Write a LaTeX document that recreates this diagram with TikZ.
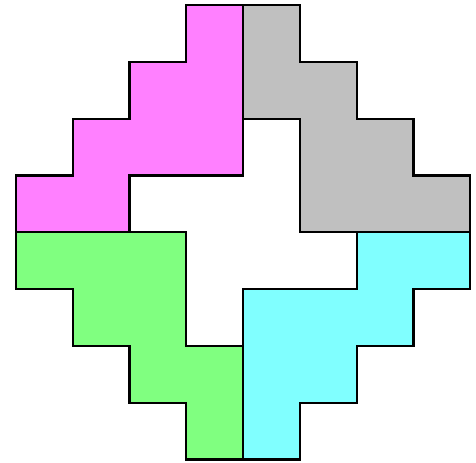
\documentclass[tikz,border=0pt]{standalone}
\usepackage{tikz}

\definecolor{pinkpiece}{RGB}{255,128,255}
\definecolor{graypiece}{RGB}{192,192,192}
\definecolor{cyanpiece}{RGB}{128,255,255}
\definecolor{greenpiece}{RGB}{128,255,128}

\begin{document}
\begin{tikzpicture}[
    x=1cm, y=1cm,
    piece/.style={draw=black, line width=1.1pt, line join=miter}
]

\useasboundingbox (-0.28, -0.05) rectangle (8.1, 8.09);

% ============ TOP LEFT (MAGENTA) ============
\filldraw[piece, fill=pinkpiece]
    (3,8) -- (4,8) -- (4,5) -- (2,5) -- (2,4) -- (0,4) -- (0,5) -- (1,5)
    -- (1,6) -- (2,6) -- (2,7) -- (3,7) -- cycle;

% ============ TOP RIGHT (GRAY) ============
\filldraw[piece, fill=graypiece]
    (4,8) -- (5,8) -- (5,7) -- (6,7) -- (6,6) -- (7,6) -- (7,5) -- (8,5)
    -- (8,4) -- (5,4) -- (5,6) -- (4,6) -- cycle;

% ============ BOTTOM RIGHT (CYAN) ============
\filldraw[piece, fill=cyanpiece]
    (8,4) -- (8,3) -- (7,3) -- (7,2) -- (6,2) -- (6,1) -- (5,1) -- (5,0)
    -- (4,0) -- (4,3) -- (6,3) -- (6,4) -- cycle;

% ============ BOTTOM LEFT (GREEN) ============
\filldraw[piece, fill=greenpiece]
    (0,4) -- (3,4) -- (3,2) -- (4,2) -- (4,0) -- (3,0) -- (3,1) -- (2,1)
    -- (2,2) -- (1,2) -- (1,3) -- (0,3) -- cycle;

\end{tikzpicture}
\end{document}
